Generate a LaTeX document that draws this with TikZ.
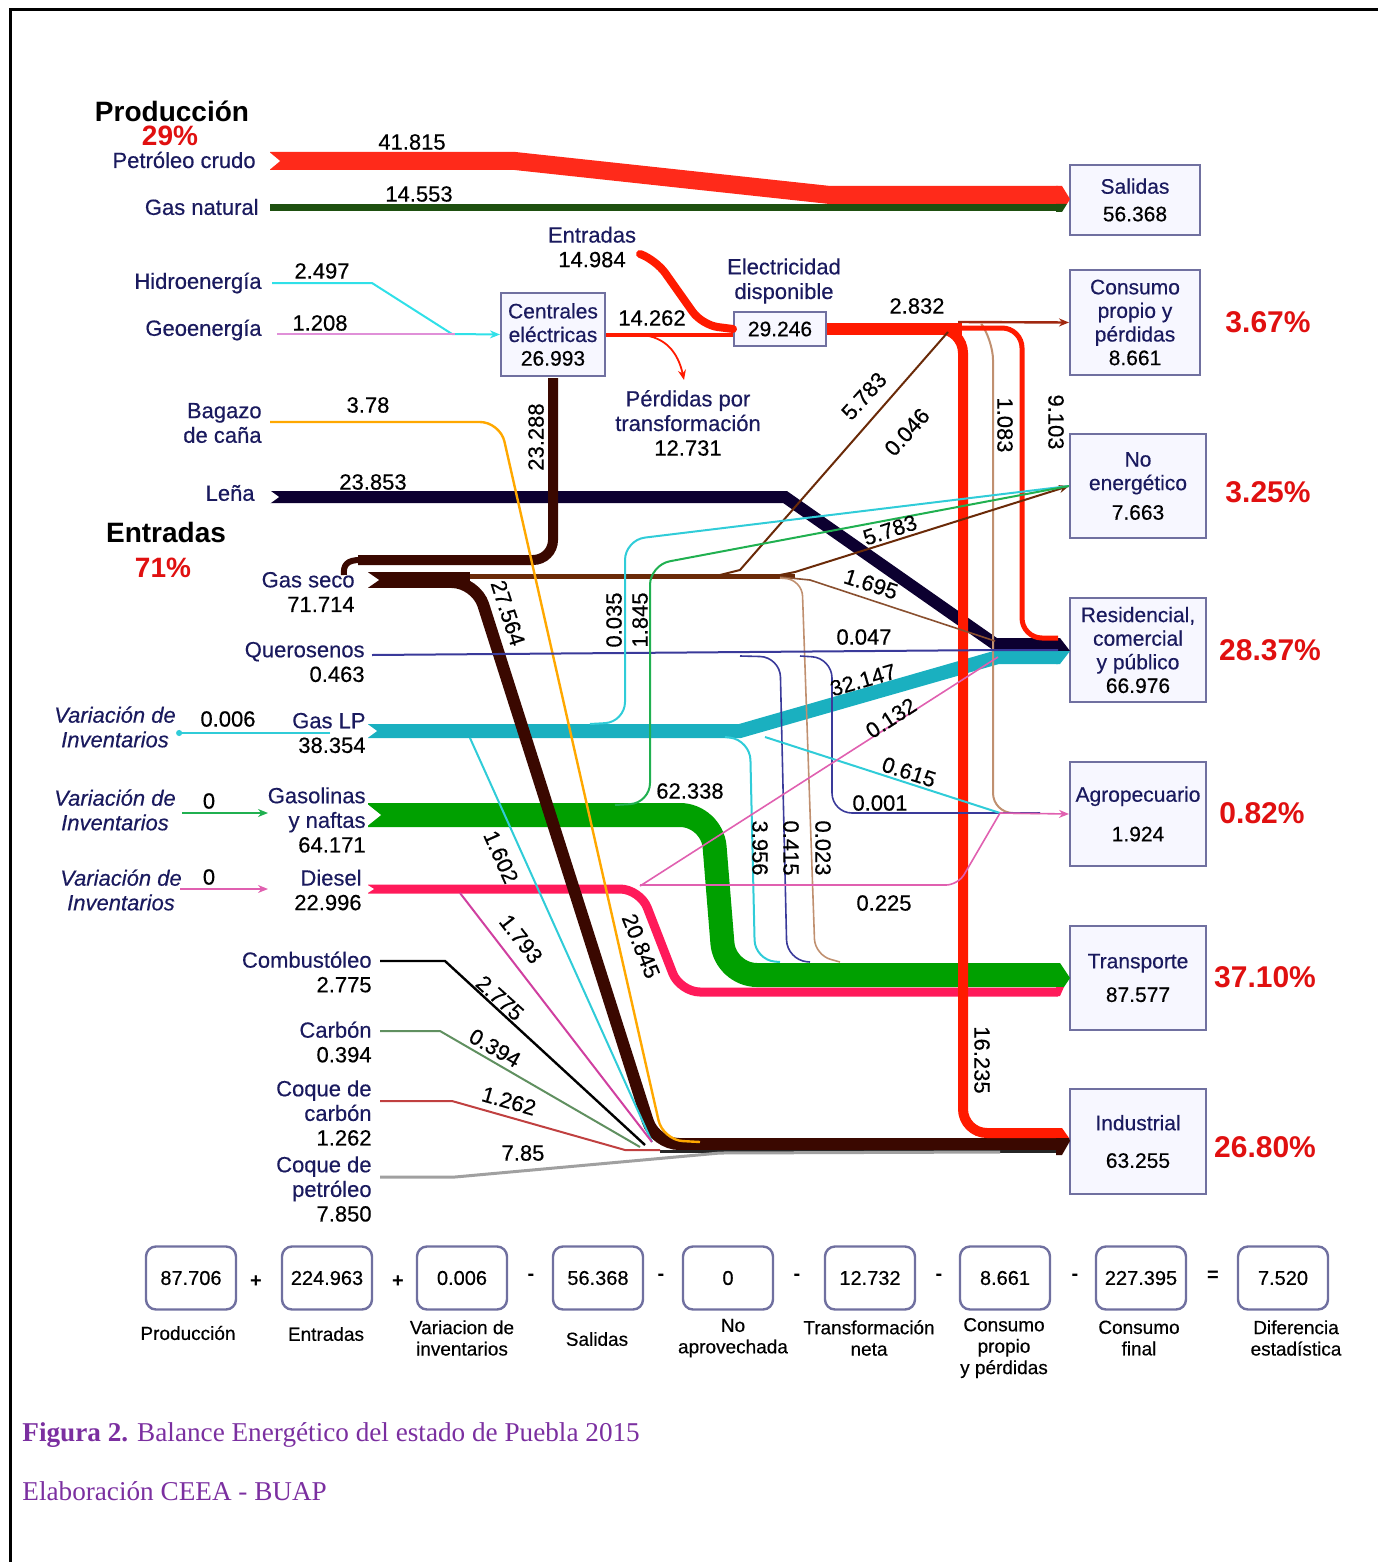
\documentclass[tikz,border=0pt]{standalone}
\usepackage{fontspec}
\setmainfont{Liberation Sans}
\newfontfamily\lblfamily{Liberation Sans}[FakeBold=0.4]
\newfontfamily\capfont{Liberation Serif}
\usetikzlibrary{arrows.meta}
\usetikzlibrary{positioning}

\definecolor{navy}{HTML}{1A1A5E}
\definecolor{pctred}{HTML}{E01010}
\definecolor{crudo}{HTML}{FF2A1A}
\definecolor{gasnat}{HTML}{1E5010}
\definecolor{hidro}{HTML}{30E0E8}
\definecolor{geo}{HTML}{E090D8}
\definecolor{gasseco}{HTML}{3A0800}
\definecolor{gsbranch}{HTML}{6A2A08}
\definecolor{gslight}{HTML}{8A5030}
\definecolor{tanline}{HTML}{C09070}
\definecolor{lena}{HTML}{0C0030}
\definecolor{bagazo}{HTML}{FFA800}
\definecolor{elec}{HTML}{FF1A00}
\definecolor{consline}{HTML}{A02810}
\definecolor{keros}{HTML}{3A3A9A}
\definecolor{gaslp}{HTML}{1AB0C0}
\definecolor{lpthin}{HTML}{30CCD8}
\definecolor{gasol}{HTML}{00A000}
\definecolor{gasolthin}{HTML}{20B050}
\definecolor{diesel}{HTML}{FF1A5A}
\definecolor{dslthin}{HTML}{E060B0}
\definecolor{dslmag}{HTML}{D040A0}
\definecolor{carbon}{HTML}{609060}
\definecolor{coquec}{HTML}{C04040}
\definecolor{coquep}{HTML}{A0A0A0}
\definecolor{boxfill}{HTML}{F7F7FF}
\definecolor{boxline}{HTML}{7070A0}
\definecolor{capcol}{HTML}{7B2FA0}

\tikzset{
  lbl/.style={text=navy, font=\lblfamily\fontsize{11}{12.3}\selectfont, inner sep=0pt, align=right},
  num/.style={text=black, font=\lblfamily\fontsize{11}{12.3}\selectfont, inner sep=0pt},
  varlbl/.style={text=navy, font=\lblfamily\fontsize{11}{12.3}\selectfont\itshape, inner sep=0pt, align=center},
  head/.style={text=black, font=\fontsize{14}{15}\selectfont\bfseries, inner sep=0pt},
  pct/.style={text=pctred, font=\fontsize{15}{16}\selectfont\bfseries, inner sep=0pt},
  sector/.style={draw=boxline, fill=boxfill, line width=1pt, text=navy, align=center,
    font=\lblfamily\fontsize{10.5}{11.8}\selectfont, inner sep=0pt},
  eqbox/.style={draw=boxline, line width=1.2pt, rounded corners=5pt, minimum width=45pt,
    minimum height=31.5pt, font=\lblfamily\fontsize{10}{11}\selectfont, inner sep=0pt},
  eqlbl/.style={font=\lblfamily\fontsize{9.5}{10.7}\selectfont, align=center, inner sep=0pt},
  op/.style={font=\fontsize{10}{10}\selectfont\bfseries, inner sep=0pt},
  flowthin/.style={line width=1pt},
  flowtip/.style={-{Stealth[length=5pt,width=4pt]}},
}

\begin{document}
\begin{tikzpicture}[x=0.5pt,y=-0.5pt]
\useasboundingbox (0,0) rectangle (1378,1562);
\draw[line width=1.5pt] (10,1562) -- (10,10) -- (1378,10);

% sectores
\node[sector, minimum width=65pt, minimum height=35pt] (salidas) at (1135,200) {Salidas\\[2pt]\textcolor{black}{56.368}};
\node[sector, minimum width=65pt, minimum height=52.5pt] (consumo) at (1135,322.5) {Consumo\\propio y\\pérdidas\\\textcolor{black}{8.661}};
\node[sector, minimum width=68pt, minimum height=52pt] (noener) at (1138,486) {No\\energético\\[3pt]\textcolor{black}{7.663}};
\node[sector, minimum width=68pt, minimum height=52pt] (resid) at (1138,650) {Residencial,\\comercial\\y público\\\textcolor{black}{66.976}};
\node[sector, minimum width=68pt, minimum height=52pt] (agro) at (1138,814) {Agropecuario\\[8pt]\textcolor{black}{1.924}};
\node[sector, minimum width=68pt, minimum height=52pt] (transp) at (1138,978) {Transporte\\[5pt]\textcolor{black}{87.577}};
\node[sector, minimum width=68pt, minimum height=52.5pt] (indus) at (1138,1141.5) {Industrial\\[7pt]\textcolor{black}{63.255}};
\node[pct] (p1) at (1268,322) {3.67\%};
\node[pct] (p2) at (1268,492) {3.25\%};
\node[pct] (p3) at (1270,650) {28.37\%};
\node[pct] (p4) at (1262,813) {0.82\%};
\node[pct] (p5) at (1265,977) {37.10\%};
\node[pct] (p6) at (1265,1147) {26.80\%};

\node[sector, minimum width=52pt, minimum height=41.5pt] (cent) at (553,334.5) {Centrales\\eléctricas\\\textcolor{black}{26.993}};
\node[sector, minimum width=46pt, minimum height=17pt, text=black] (edisp) at (780,329) {29.246};
\node[lbl, align=center] (edl) at (784,281) {Electricidad\\disponible};
\node[lbl, align=center] (entr2) at (592,247) {Entradas\\\textcolor{black}{14.984}};
\node[lbl, align=center] (perd) at (688,423) {Pérdidas por\\transformación\\\textcolor{black}{12.731}};

% fuentes
\node[head] (prodh) at (172,111) {Producción};
\node[pct, font=\fontsize{14}{15}\selectfont\bfseries] (prodp) at (170,136) {29\%};
\node[head] (entrh) at (166,532) {Entradas};
\node[pct, font=\fontsize{14}{15}\selectfont\bfseries] (entrp) at (163,568) {71\%};
\node[lbl, anchor=east] (crudo) at (256,160) {Petróleo crudo};
\node[lbl, anchor=east] (gnat) at (259,207) {Gas natural};
\node[lbl, anchor=east] (hidrol) at (262,283) {Hidroenergía};
\node[lbl, anchor=east] (geol) at (262,330) {Geoenergía};
\node[lbl, anchor=east] (bagl) at (262,423) {Bagazo\\de caña};
\node[lbl, anchor=east] (lenal) at (255,493) {Leña};
\node[lbl, anchor=east] (gseco) at (355,592) {Gas seco\\\textcolor{black}{71.714}};
\node[lbl, anchor=east] (kerl) at (365,662) {Querosenos\\\textcolor{black}{0.463}};
\node[lbl, anchor=east] (glp) at (366,733) {Gas LP\\\textcolor{black}{38.354}};
\node[lbl, anchor=east] (gasl) at (366,820) {Gasolinas\\y naftas\\\textcolor{black}{64.171}};
\node[lbl, anchor=east] (dsl) at (362,890) {Diesel\\\textcolor{black}{22.996}};
\node[lbl, anchor=east] (comb) at (372,972) {Combustóleo\\\textcolor{black}{2.775}};
\node[lbl, anchor=east] (carb) at (372,1042) {Carbón\\\textcolor{black}{0.394}};
\node[lbl, anchor=east] (coqc) at (372,1113) {Coque de\\carbón\\\textcolor{black}{1.262}};
\node[lbl, anchor=east] (coqp) at (372,1189) {Coque de\\petróleo\\\textcolor{black}{7.850}};
\node[varlbl] (var1) at (115,727) {Variación de\\Inventarios};
\node[varlbl] (var2) at (115,810) {Variación de\\Inventarios};
\node[varlbl] (var3) at (121,890) {Variación de\\Inventarios};

% bandas anchas
\draw[crudo, line width=9pt] (270,161) -- (515,161) -- (830,195) -- (1058,195);
\draw[gasnat, line width=3.5pt] (270,208) -- (1058,208);
\fill[crudo] (1056,186) -- (1062,186) -- (1070,199) -- (1067,204) -- (1056,204) -- cycle;
\fill[gasnat] (1056,204) -- (1067,204) -- (1062,212) -- (1056,212) -- cycle;
\fill[white] (268,151) -- (280,161) -- (268,171) -- cycle;

\draw[gasol, line width=12pt, rounded corners=16pt] (368,815) -- (712,815) -- (725,975) -- (1058,975);
\draw[diesel, line width=4.5pt, rounded corners=10pt] (368,889) -- (640,889) -- (680,992) -- (1058,992);
\fill[gasol] (1056,963) -- (1060,963) -- (1070,978) -- (1064,987) -- (1056,987) -- cycle;
\fill[diesel] (1056,987) -- (1064,987) -- (1060,996) -- (1056,996) -- cycle;
\draw[gaslp, line width=7pt] (368,731) -- (740,731) -- (998,657) -- (1058,657);
\draw[lena, line width=6pt] (270,497) -- (785,497) -- (995,644) -- (1058,644);
\fill[lena] (1056,638) -- (1060,638) -- (1070,651) -- (1056,651) -- cycle;
\fill[gaslp] (1056,651) -- (1070,651) -- (1060,664) -- (1056,664) -- cycle;

% gas seco
\draw[gasseco, line width=5pt, rounded corners=10pt] (553,378) -- (553,560) -- (358,560);
\draw[gasseco, line width=3pt] (360,560) .. controls (347,560) and (343,565) .. (344,575);
\draw[gsbranch, line width=2.5pt] (460,576) -- (795,576);
\draw[gasseco, line width=8pt] (368,580) -- (470,580);
\draw[gasseco, line width=6pt, rounded corners=12pt] (455,582) -- (476,582) -- (655,1144) -- (1058,1144);
\draw[black!85, line width=1.5pt] (660,1151) -- (1058,1151);

% electricidad
\draw[elec, line width=2pt] (cent.east) -- (cent.east -| edisp.west);
\draw[elec, line width=0.9pt, flowtip] (642,335) .. controls (665,337) and (678,352) .. (684,380);
\draw[elec, line width=4pt, rounded corners=8pt, line cap=round] (640,254) -- (656,260) -- (702,325) -- (edisp.west);
\draw[elec, line width=6pt] (edisp.east) -- (962,329);
\draw[consline, line width=1.2pt, flowtip] (958,322) -- (consumo.west);
\draw[tanline, line width=1pt, rounded corners=10pt] (985,329) -- (993,340) -- (993,813) -- (1040,813);
\draw[elec, line width=2.5pt, rounded corners=10pt] (950,328) -- (1022,328) -- (1022,638) -- (1058,638);
\draw[elec, line width=5pt, rounded corners=12pt] (940,329) -- (963,329) -- (963,1133) -- (1058,1133);
\fill[elec] (1056,1128) -- (1062,1128) -- (1069,1138) -- (1056,1138) -- cycle;
\fill[gasseco] (1056,1138) -- (1069,1138) -- (1070,1141) -- (1062,1155) -- (1056,1155) -- cycle;

% lineas delgadas
\draw[hidro, flowthin, flowtip] (272,283) -- (372,283) -- (452,334) -- (cent.west);
\draw[geo, flowthin] (277,334) -- (455,334);
\draw[bagazo, line width=1.2pt, rounded corners=10pt] (270,422) -- (500,422) -- (663,1140) -- (700,1142);
\draw[gsbranch, flowthin] (720,575) -- (740,570) -- (948,332);
\draw[gsbranch, flowthin, flowtip] (780,575) -- (795,572) -- (noener.west);
\draw[gslight, line width=0.8pt] (780,577) -- (810,580) -- (995,641);
\draw[tanline, line width=0.8pt, rounded corners=8pt] (780,578) -- (802,580) -- (815,955) -- (840,962);
\draw[keros, flowthin] (372,655) -- (1000,650) -- (1058,650);
\draw[keros, line width=0.8pt, rounded corners=10pt] (740,656) -- (780,657) -- (787,960) -- (810,962);
\draw[keros, line width=0.8pt, rounded corners=10pt] (800,656) -- (832,658) -- (832,813) -- (1040,813);
\draw[lpthin, flowthin, rounded corners=10pt] (590,724) -- (625,722) -- (625,540) -- (noener.west);
\draw[lpthin, flowthin] (470,738) -- (652,1142);
\draw[lpthin, flowthin, rounded corners=10pt] (725,737) -- (750,740) -- (755,960) -- (780,962);
\draw[lpthin, flowthin] (765,737) -- (1000,813);
\draw[lpthin, line width=0.8pt, -{Circle[length=3pt]}] (330,733) -- (var1.east |- glp.west);
\draw[gasolthin, flowthin, rounded corners=10pt] (615,805) -- (650,803) -- (650,565) -- (noener.west);
\draw[gasolthin, line width=0.8pt, flowtip] (182,813) -- (268,813);
\draw[dslthin, line width=0.8pt] (640,886) -- (998,657);
\draw[dslthin, line width=0.8pt, rounded corners=6pt] (640,885) -- (958,885) -- (1000,813);
\draw[dslthin, line width=0.8pt, flowtip] (1000,813) -- (agro.west);
\draw[dslmag, flowthin] (460,893) -- (652,1142);
\draw[dslthin, line width=0.8pt, flowtip] (180,889) -- (268,889);
\draw[black, line width=1.2pt] (380,961) -- (445,961) -- (645,1145);
\draw[carbon, flowthin] (380,1031) -- (440,1031) -- (640,1147);
\draw[coquec, flowthin] (380,1101) -- (452,1101) -- (625,1150) -- (660,1150);
\draw[coquep, line width=1.5pt] (380,1177) -- (455,1177) -- (720,1153) -- (1000,1152);
\fill[white] (366,571) -- (379,580) -- (366,589) -- cycle;
\fill[white] (366,723) -- (377,731) -- (366,739) -- cycle;
\fill[white] (366,803) -- (381,815) -- (366,827) -- cycle;
\fill[white] (366,884) -- (374,889) -- (366,894) -- cycle;
\fill[white] (268,489) -- (279,497) -- (268,505) -- cycle;

% valores de flujo
\node[num] (v1) at (412,142) {41.815};
\node[num] (v2) at (419,194) {14.553};
\node[num] (v3) at (322,271) {2.497};
\node[num] (v4) at (320,323) {1.208};
\node[num] (v5) at (652,318) {14.262};
\node[num] (v6) at (917,306) {2.832};
\node[num] (v7) at (368,405) {3.78};
\node[num] (v8) at (373,482) {23.853};
\node[num, rotate=90] (v9) at (536,437) {23.288};
\node[num, rotate=48] (v10) at (864,396) {5.783};
\node[num, rotate=48] (v11) at (907,432) {0.046};
\node[num, rotate=-90] (v12) at (1005,425) {1.083};
\node[num, rotate=-90] (v13) at (1056,422) {9.103};
\node[num, rotate=18] (v14) at (890,530) {5.783};
\node[num, rotate=-18] (v15) at (871,584) {1.695};
\node[num, rotate=-72] (v16) at (508,613) {27.564};
\node[num, rotate=90] (v17) at (614,620) {0.035};
\node[num, rotate=90] (v18) at (640,620) {1.845};
\node[num] (v19) at (864,637) {0.047};
\node[num, rotate=16] (v20) at (863,680) {32.147};
\node[num, rotate=33] (v21) at (891,718) {0.132};
\node[num, rotate=-18] (v22) at (909,772) {0.615};
\node[num] (v23) at (880,803) {0.001};
\node[num] (v24) at (690,791) {62.338};
\node[num, rotate=-90] (v25) at (760,848) {3.956};
\node[num, rotate=-90] (v26) at (791,848) {0.415};
\node[num, rotate=-90] (v27) at (823,848) {0.023};
\node[num] (v28) at (884,903) {0.225};
\node[num, rotate=-66] (v29) at (501,857) {1.602};
\node[num, rotate=-52] (v30) at (521,939) {1.793};
\node[num, rotate=-68] (v31) at (641,946) {20.845};
\node[num, rotate=-42] (v32) at (500,998) {2.775};
\node[num, rotate=-30] (v33) at (495,1048) {0.394};
\node[num, rotate=-16] (v34) at (509,1101) {1.262};
\node[num] (v35) at (523,1153) {7.85};
\node[num, rotate=-90] (v36) at (982,1060) {16.235};
\node[num] (v37) at (228,719) {0.006};
\node[num] (v38) at (209,801) {0};
\node[num] (v39) at (209,877) {0};

% balance
\node[eqbox] (e1) at (191,1278) {87.706};
\node[eqbox] (e2) at (327,1278) {224.963};
\node[eqbox] (e3) at (462,1278) {0.006};
\node[eqbox] (e4) at (598,1278) {56.368};
\node[eqbox] (e5) at (728,1278) {0};
\node[eqbox] (e6) at (870,1278) {12.732};
\node[eqbox] (e7) at (1005,1278) {8.661};
\node[eqbox] (e8) at (1141,1278) {227.395};
\node[eqbox] (e9) at (1283,1278) {7.520};
\node[op] (o1) at (256,1282) {+};
\node[op] (o2) at (398,1282) {+};
\node[op] (o3) at (531,1277) {-};
\node[op] (o4) at (661,1277) {-};
\node[op] (o5) at (797,1277) {-};
\node[op] (o6) at (939,1277) {-};
\node[op] (o7) at (1075,1277) {-};
\node[op] (o8) at (1213,1276) {=};
\node[eqlbl] (l1) at (188,1333) {Producción};
\node[eqlbl] (l2) at (326,1334) {Entradas};
\node[eqlbl] (l3) at (462,1338) {Variacion de\\inventarios};
\node[eqlbl] (l4) at (597,1339) {Salidas};
\node[eqlbl] (l5) at (733,1338) {No\\aprovechada};
\node[eqlbl] (l6) at (869,1338) {Transformación\\neta};
\node[eqlbl] (l7) at (1004,1348) {Consumo\\propio\\y pérdidas};
\node[eqlbl] (l8) at (1139,1338) {Consumo\\final};
\node[eqlbl] (l9) at (1296,1338) {Diferencia\\estadística};

% pie de figura
\node[anchor=base west, text=capcol, font=\capfont\fontsize{13.6}{14.5}\selectfont, inner sep=0pt] (cap1) at (22,1441) {\textbf{Figura 2.} Balance Energético del estado de Puebla 2015};
\node[anchor=base west, text=capcol, font=\capfont\fontsize{13.6}{14.5}\selectfont, inner sep=0pt] (cap2) at (22,1500) {Elaboración CEEA - BUAP};
\end{tikzpicture}
\end{document}
